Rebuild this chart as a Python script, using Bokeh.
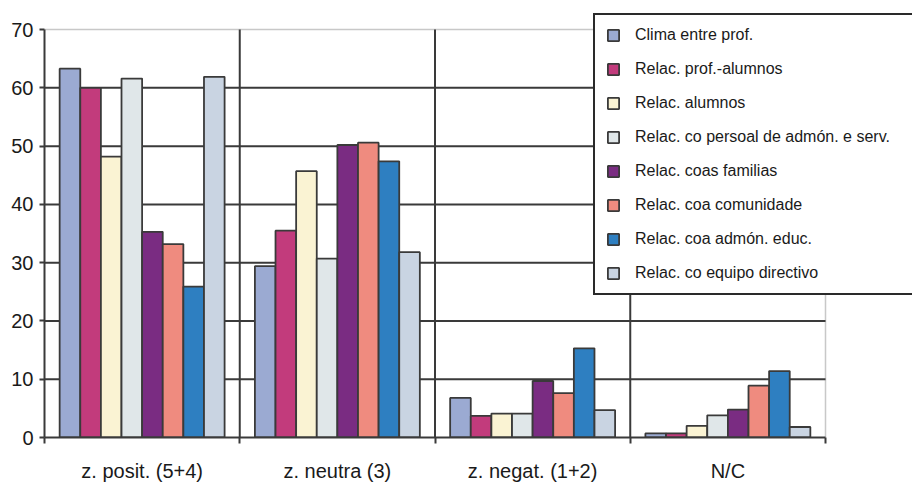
from bokeh.plotting import figure
from bokeh.models import Range1d, FixedTicker, ColumnDataSource
from bokeh.embed import file_html
from bokeh.resources import INLINE
import numpy as np

categories = ["z. posit. (5+4)", "z. neutra (3)", "z. negat. (1+2)", "N/C"]

series_names = [
    "Clima entre prof.",
    "Relac. prof.-alumnos",
    "Relac. alumnos",
    "Relac. co persoal de admón. e serv.",
    "Relac. coas familias",
    "Relac. coa comunidade",
    "Relac. coa admón. educ.",
    "Relac. co equipo directivo",
]

clima = [63.3, 29.4, 6.8, 0.7]
prof_alumnos = [60.0, 35.5, 3.7, 0.7]
alumnos = [48.2, 45.7, 4.1, 2.0]
persoal = [61.6, 30.7, 4.1, 3.8]
familias = [35.3, 50.2, 9.7, 4.8]
comunidade = [33.2, 50.6, 7.6, 8.9]
admon_educ = [25.9, 47.4, 15.3, 11.4]
equipo = [61.9, 31.8, 4.7, 1.8]

series_values = [clima, prof_alumnos, alumnos, persoal, familias, comunidade, admon_educ, equipo]

colors = ["#9BAAD2", "#C23B7C", "#FAF3D3", "#E0E7E9", "#7A2C82", "#EF8B7F", "#2E7FC1", "#C9D4E2"]

y_ticks = [0, 10, 20, 30, 40, 50, 60, 70]

FONT = "Liberation Sans"
DARK = "#3a3a3a"

# layout (pixels)
W, H = 912, 484
LEFT, BOTTOM = 44, 44
PLOT_RIGHT_PX, PLOT_TOP_PX = 825, 29.3   # where the data area ends on the canvas
ncat = len(categories)
ymax = max(y_ticks)
frame_w = W - LEFT
frame_h = H - BOTTOM
x_end = ncat * frame_w / (PLOT_RIGHT_PX - LEFT)
y_end = ymax * frame_h / (frame_h - PLOT_TOP_PX)

p = figure(
    width=W, height=H,
    x_range=Range1d(0, x_end), y_range=Range1d(0, y_end),
    output_backend="svg", toolbar_location=None,
    min_border_left=LEFT, min_border_right=0, min_border_top=0, min_border_bottom=BOTTOM,
    background_fill_color="white", border_fill_color="white",
)
p.outline_line_color = None
p.xgrid.visible = False
p.ygrid.visible = False

# plot-area border (light) at top and right
p.segment(x0=[0, ncat], y0=[ymax, 0], x1=[ncat, ncat], y1=[ymax, ymax],
          line_color="#c8c8c8", line_width=1.5)

# dark grid lines inside the data area
vx = list(range(1, ncat))
p.segment(x0=vx, y0=[0] * len(vx), x1=vx, y1=[ymax] * len(vx),
          line_color=DARK, line_width=2)
hy = y_ticks[1:-1]
p.segment(x0=[0] * len(hy), y0=hy, x1=[ncat] * len(hy), y1=hy,
          line_color=DARK, line_width=2)

n = len(series_names)
bar_w = 0.1056
centers = np.arange(ncat) + 0.5
for i, (name, vals, col) in enumerate(zip(series_names, series_values, colors)):
    src = ColumnDataSource(dict(x=centers + (i - (n - 1) / 2) * bar_w, top=vals))
    p.vbar(x="x", top="top", bottom=0, width=bar_w, source=src,
           fill_color=col, line_color=DARK, line_width=1.8, legend_label=name)

# x axis
xa = p.xaxis[0]
xa.bounds = (0, ncat)
xa.ticker = FixedTicker(ticks=list(centers), minor_ticks=list(range(0, ncat + 1)))
xa.major_label_overrides = {float(c): lab for c, lab in zip(centers, categories)}
xa.major_tick_line_color = None
xa.major_tick_out = 0
xa.major_tick_in = 0
xa.minor_tick_out = 6
xa.minor_tick_in = 0
xa.minor_tick_line_color = DARK
xa.minor_tick_line_width = 2
xa.axis_line_color = DARK
xa.axis_line_width = 2
xa.major_label_text_font = FONT
xa.major_label_text_font_size = "20px"
xa.major_label_text_color = "#1a1a1a"
xa.major_label_standoff = 16

# y axis
ya = p.yaxis[0]
ya.bounds = (0, ymax)
ya.ticker = FixedTicker(ticks=y_ticks)
ya.major_tick_out = 5
ya.major_tick_in = 0
ya.minor_tick_line_color = None
ya.major_tick_line_color = DARK
ya.major_tick_line_width = 2
ya.axis_line_color = DARK
ya.axis_line_width = 2
ya.major_label_text_font = FONT
ya.major_label_text_font_size = "20px"
ya.major_label_text_color = "#1a1a1a"
ya.major_label_standoff = 6

# legend
lg = p.legend[0]
lg.location = (549, 142)
lg.margin = 0
lg.padding = 11
lg.spacing = 16
lg.glyph_width = 14
lg.glyph_height = 14
lg.label_height = 14
lg.label_width = 290
lg.label_standoff = 15
lg.label_text_font = FONT
lg.label_text_font_size = "16px"
lg.label_text_color = "#1a1a1a"
lg.border_line_color = "#2a2a2a"
lg.border_line_width = 2
lg.border_line_alpha = 1.0
lg.background_fill_color = "white"
lg.background_fill_alpha = 1.0

open("out.html", "w").write(file_html(p, INLINE))
